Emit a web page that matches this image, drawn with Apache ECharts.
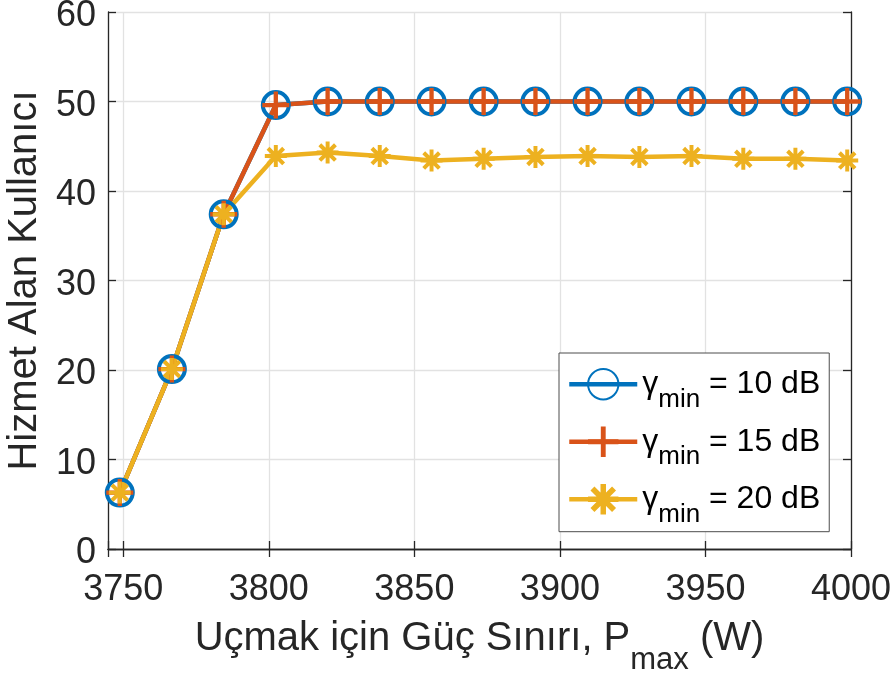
<!DOCTYPE html>
<html>
<head>
<meta charset="utf-8">
<script src="https://cdn.jsdelivr.net/npm/echarts@6/dist/echarts.min.js"></script>
<style>
  html, body { margin: 0; padding: 0; background: #fff; }
  #chart { width: 892px; height: 677px; }
</style>
</head>
<body>
<div id="chart"></div>
<script>
// x değerleri (P_max, W)
let pmax = [3748.8, 3766.7, 3784.5, 3802.4, 3820.2, 3838.1, 3855.9, 3873.8, 3891.6, 3909.5, 3927.3, 3945.2, 3963.0, 3980.9, 3998.7];
let users10 = [6.3, 20.1, 37.4, 49.6, 50, 50, 50, 50, 50, 50, 50, 50, 50, 50, 50];
let users15 = [6.3, 20.1, 37.4, 49.6, 50, 50, 50, 50, 50, 50, 50, 50, 50, 50, 50];
let users20 = [6.3, 20.1, 37.4, 43.9, 44.3, 43.9, 43.4, 43.6, 43.8, 43.9, 43.8, 43.9, 43.6, 43.6, 43.4];
let seriesNames = ['γmin = 10 dB', 'γmin = 15 dB', 'γmin = 20 dB'];
let yTicks = [0, 10, 20, 30, 40, 50, 60];

let axisColor = '#262626';
let fontName = 'Liberation Sans';

// markers: '+' ve '*'
let plusPath = 'path://M42,0 L58,0 L58,100 L42,100 Z M0,42 L100,42 L100,58 L0,58 Z';
let starPath = 'path://M41,0 L59,0 L59,100 L41,100 Z M0,41 L100,41 L100,59 L0,59 Z ' +
    'M21,8 L92,79 L79,92 L8,21 Z M79,8 L92,21 L21,92 L8,79 Z';

function pairs(xs, ys) {
    let out = [];
    for (let i = 0; i < xs.length; i++) {
        out.push([xs[i], ys[i]]);
    }
    return out;
}

let legendRich = {
    g: { fontFamily: fontName, fontSize: 32, color: '#000', verticalAlign: 'middle' },
    s: { fontFamily: fontName, fontSize: 26, color: '#000', padding: [31, 0, 0, 0], verticalAlign: 'bottom' },
    t: { fontFamily: fontName, fontSize: 32, color: '#000', verticalAlign: 'middle' }
};

let option = {
    animation: false,
    backgroundColor: '#fff',
    grid: {
        left: 108,
        right: 41,
        top: 12,
        bottom: 128,
        outerBoundsMode: 'none'
    },
    legend: {
        orient: 'vertical',
        left: 559,
        top: 353,
        itemWidth: 68,
        itemHeight: 38,
        itemGap: 13,
        padding: [15, 9, 4, 8],
        backgroundColor: '#fff',
        borderColor: '#4d4d4d',
        borderWidth: 1,
        borderRadius: 0,
        lineStyle: { width: 4.5 },
        data: seriesNames,
        formatter: function (name) {
            let rest = name.replace('γmin', '');
            return '{g|γ}{s|min}{t|' + rest + '}';
        },
        textStyle: { rich: legendRich }
    },
    xAxis: [
        {
            type: 'value',
            position: 'bottom',
            min: 3744.75,
            max: 4000,
            name: '{a|Uçmak için Güç Sınırı, P}{b|max}{a| (W)}',
            nameLocation: 'middle',
            nameGap: 53,
            nameTextStyle: {
                rich: {
                    a: { fontFamily: fontName, fontSize: 40, lineHeight: 42, color: axisColor, verticalAlign: 'middle' },
                    b: { fontFamily: fontName, fontSize: 31, color: axisColor, padding: [43, 0, 0, 0], verticalAlign: 'bottom' }
                }
            },
            axisLine: { show: true, lineStyle: { color: axisColor, width: 1.3 } },
            axisTick: { show: true, inside: true, length: 8, lineStyle: { color: axisColor, width: 1.3 } },
            axisLabel: {
                margin: 23,
                fontFamily: fontName,
                fontSize: 36,
                color: axisColor,
                formatter: function (v) { return v % 50 === 0 ? String(v) : ''; }
            },
            splitLine: { show: true, lineStyle: { color: '#e2e2e2', width: 1.3 } }
        },
        {
            type: 'value',
            position: 'top',
            min: 3744.75,
            max: 4000,
            axisLine: { show: true, lineStyle: { color: axisColor, width: 1.3 } },
            axisTick: { show: true, inside: true, length: 8, lineStyle: { color: axisColor, width: 1.3 } },
            axisLabel: { show: false },
            splitLine: { show: false }
        }
    ],
    yAxis: [
        {
            type: 'value',
            position: 'left',
            min: yTicks[0],
            max: yTicks[yTicks.length - 1],
            interval: 10,
            name: 'Hizmet Alan Kullanıcı',
            nameLocation: 'middle',
            nameGap: 60,
            nameTextStyle: { fontFamily: fontName, fontSize: 40, color: axisColor },
            axisLine: { show: true, lineStyle: { color: axisColor, width: 1.3 } },
            axisTick: { show: true, inside: true, length: 8, lineStyle: { color: axisColor, width: 1.3 } },
            axisLabel: {
                margin: 12,
                formatter: function (v) { return '{v|' + v + '}'; },
                rich: {
                    v: { fontFamily: fontName, fontSize: 36, color: axisColor, padding: [9, 0, 0, 0] }
                }
            },
            splitLine: { show: true, lineStyle: { color: '#e2e2e2', width: 1.3 } }
        },
        {
            type: 'value',
            position: 'right',
            min: yTicks[0],
            max: yTicks[yTicks.length - 1],
            interval: 10,
            axisLine: { show: true, lineStyle: { color: axisColor, width: 1.3 } },
            axisTick: { show: true, inside: true, length: 8, lineStyle: { color: axisColor, width: 1.3 } },
            axisLabel: { show: false },
            splitLine: { show: false }
        }
    ],
    series: [
        {
            name: seriesNames[0],
            type: 'line',
            data: pairs(pmax, users10),
            symbol: 'circle',
            symbolSize: 26,
            lineStyle: { color: '#0072BD', width: 4.5 },
            itemStyle: { color: 'rgba(0,0,0,0)', borderColor: '#0072BD', borderWidth: 4 }
        },
        {
            name: seriesNames[1],
            type: 'line',
            data: pairs(pmax, users15),
            symbol: plusPath,
            symbolSize: 27,
            lineStyle: { color: '#D95319', width: 4.5 },
            itemStyle: { color: '#D95319' }
        },
        {
            name: seriesNames[2],
            type: 'line',
            data: pairs(pmax, users20),
            symbol: starPath,
            symbolSize: 22,
            lineStyle: { color: '#EDB120', width: 4.5 },
            itemStyle: { color: '#EDB120' }
        }
    ]
};

let myChart = echarts.init(document.getElementById('chart'));
myChart.setOption(option);
</script>
</body>
</html>
